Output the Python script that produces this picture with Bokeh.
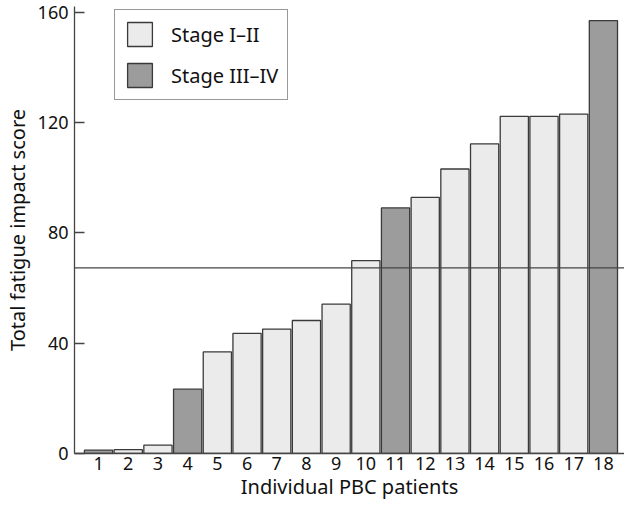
from bokeh.plotting import figure
from bokeh.models import Range1d, FixedTicker, Span, Legend, LegendItem
from bokeh.embed import file_html
from bokeh.resources import INLINE

patients = list(range(1, 19))
scores = [1.2, 1.4, 3.0, 23.3, 36.8, 43.5, 45.1, 48.2, 54.1, 69.9,
          89.0, 92.8, 103.1, 112.2, 122.2, 122.2, 123.0, 156.9]
stages = ["III–IV", "I–II", "I–II", "III–IV", "I–II", "I–II", "I–II", "I–II", "I–II", "I–II",
          "III–IV", "I–II", "I–II", "I–II", "I–II", "I–II", "I–II", "III–IV"]
threshold = 67.3
y_ticks = [0, 40, 80, 120, 160]

FONT = "Noto Sans"

p = figure(width=624, height=502, output_backend="svg", toolbar_location=None,
           x_range=Range1d(0.19, 18.71), y_range=Range1d(0, 162),
           min_border_left=0, min_border_right=0, min_border_top=6, min_border_bottom=0)
p.grid.visible = False
p.outline_line_color = None
p.background_fill_color = "white"

light_x = [x for x, s in zip(patients, stages) if s == "I–II"]
light_y = [v for v, s in zip(scores, stages) if s == "I–II"]
dark_x = [x for x, s in zip(patients, stages) if s == "III–IV"]
dark_y = [v for v, s in zip(scores, stages) if s == "III–IV"]

r1 = p.vbar(x=light_x, top=light_y, bottom=0, width=0.95,
            fill_color="#ebebeb", line_color="#3a3a3a", line_width=1.3)
r2 = p.vbar(x=dark_x, top=dark_y, bottom=0, width=0.95,
            fill_color="#9c9c9c", line_color="#3a3a3a", line_width=1.3)

p.add_layout(Span(location=threshold, dimension="width", line_color="#444444", line_width=1.2))

legend = Legend(items=[LegendItem(label="Stage I–II", renderers=[r1]),
                       LegendItem(label="Stage III–IV", renderers=[r2])],
                location=(40, 353))
legend.glyph_width = 31
legend.glyph_height = 30
legend.spacing = 11
legend.padding = 9
legend.margin = 0
legend.label_standoff = 16
legend.label_text_font = FONT
legend.label_text_font_size = "20px"
legend.label_text_color = "#111111"
legend.border_line_color = "#333333"
legend.border_line_width = 1.2
legend.background_fill_alpha = 1
p.add_layout(legend)

for ax in (p.xaxis[0], p.yaxis[0]):
    ax.axis_line_color = "#444444"
    ax.axis_line_width = 1.3
    ax.major_label_text_font = FONT
    ax.major_label_text_font_size = "18px"
    ax.major_label_text_color = "#111111"
    ax.axis_label_text_font = FONT
    ax.axis_label_text_font_size = "20px"
    ax.axis_label_text_font_style = "normal"
    ax.axis_label_text_color = "#111111"
    ax.minor_tick_line_color = None

p.xaxis.ticker = FixedTicker(ticks=patients)
p.xaxis.major_tick_line_color = None
p.xaxis.major_tick_in = 0
p.xaxis.major_tick_out = 0
p.xaxis.major_label_standoff = 3
p.xaxis.axis_label = "Individual PBC patients"
p.xaxis.axis_label_standoff = 0

p.yaxis.ticker = FixedTicker(ticks=y_ticks)
p.yaxis.major_tick_in = 10
p.yaxis.major_tick_out = 0
p.yaxis.major_tick_line_color = "#444444"
p.yaxis.major_tick_line_width = 1.3
p.yaxis.major_label_standoff = 6
p.yaxis.axis_label = "Total fatigue impact score"
p.yaxis.axis_label_standoff = 4

open("out.html", "w").write(file_html(p, INLINE))
